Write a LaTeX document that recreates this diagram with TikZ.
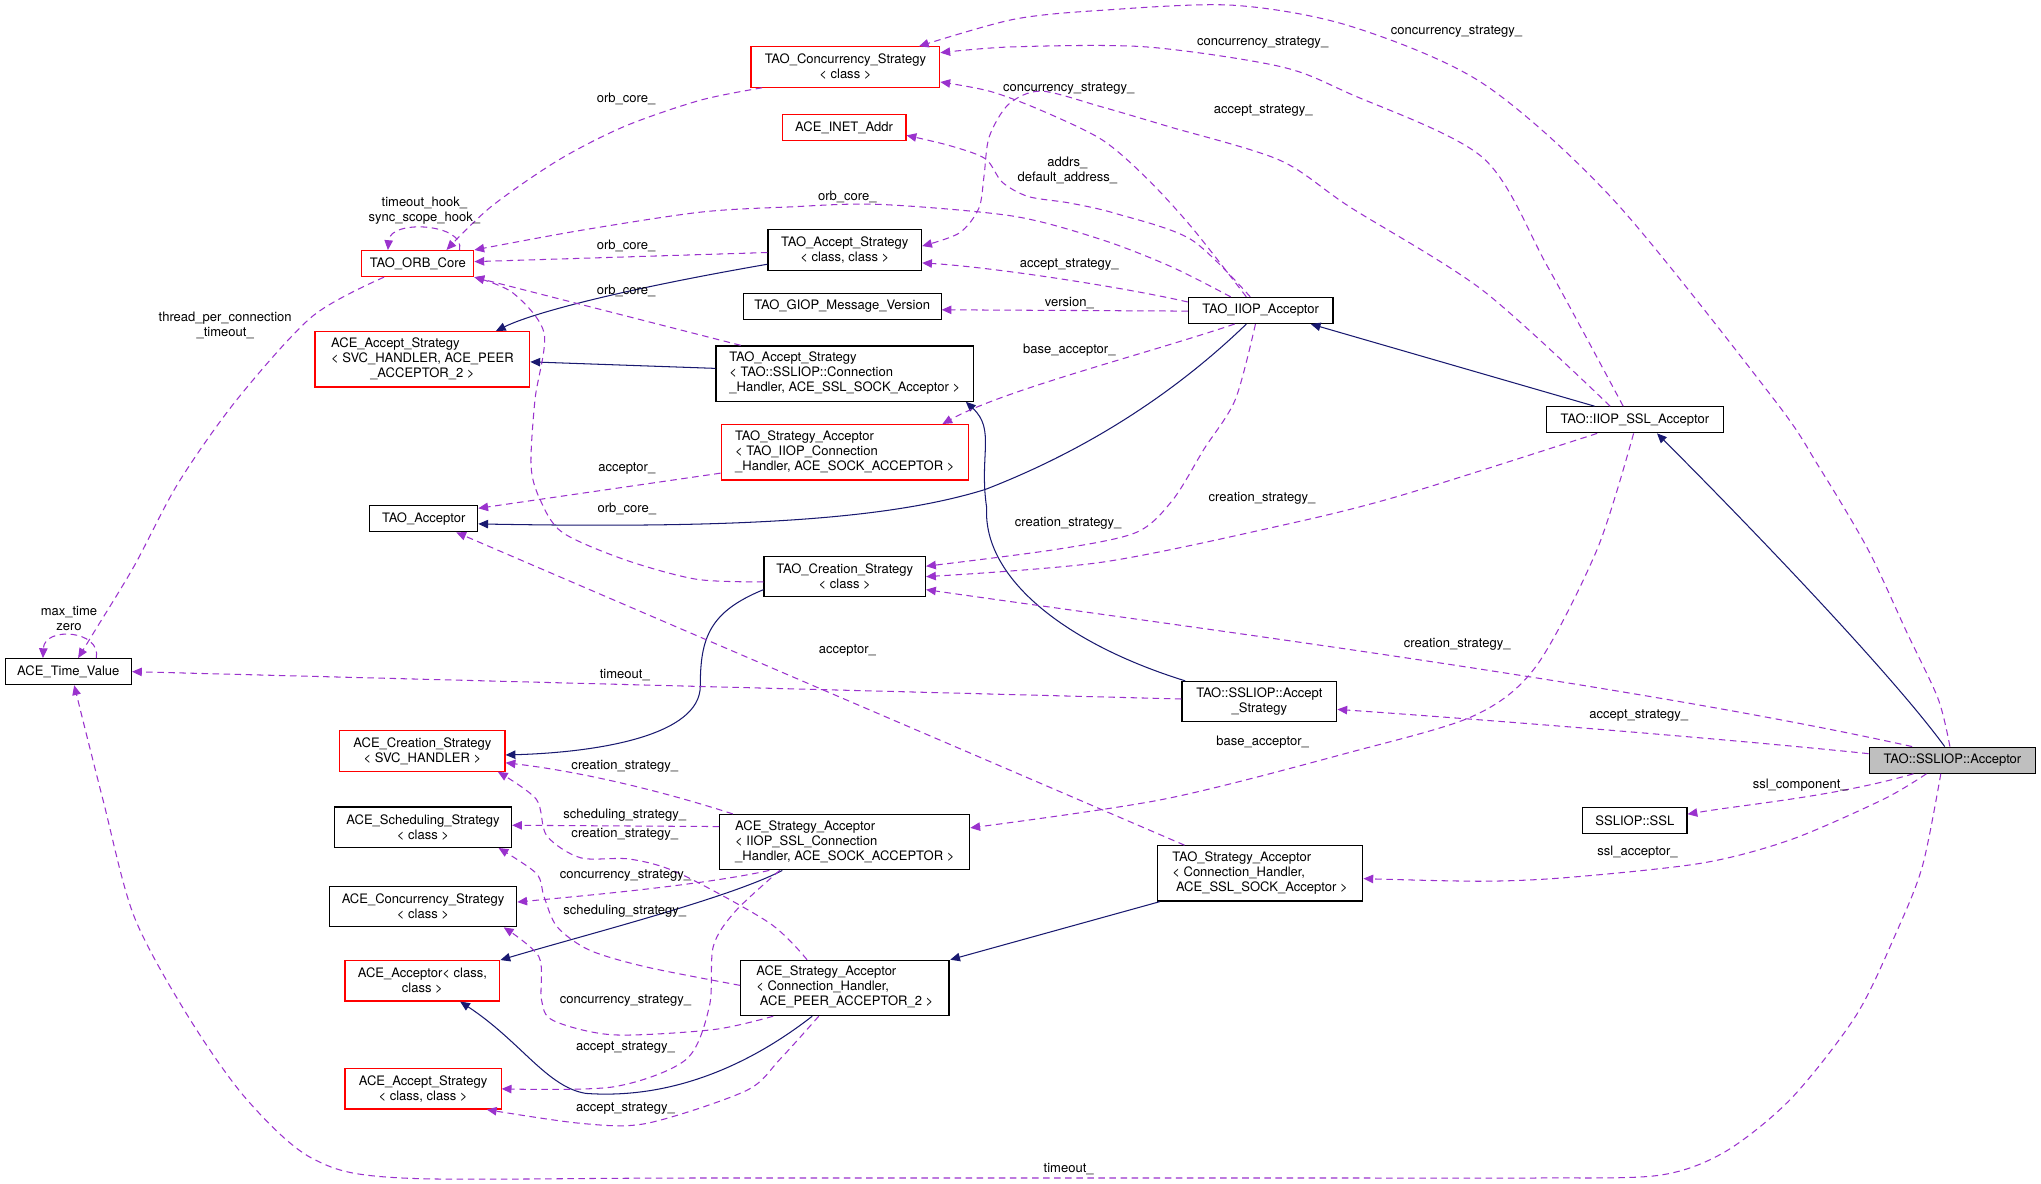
\documentclass[tikz,border=0pt]{standalone}
\usepackage{fontspec}
\setmainfont{TeX Gyre Heros}
\usetikzlibrary{arrows.meta}

\definecolor{mbr}{HTML}{9A32CD}
\definecolor{inh}{HTML}{191970}
\definecolor{selgray}{HTML}{BFBFBF}
\newcommand{\dgfont}{\fontsize{10}{11.5}\selectfont}
\newcommand{\threel}[3]{\begin{tabular}{@{}l@{}}#1\\#2\\\multicolumn{1}{@{}c@{}}{#3}\end{tabular}}

\tikzset{
    cls/.style={draw=black, line width=0.9pt, fill=white, minimum height=20pt, inner sep=2pt, font=\dgfont},
    redcls/.style={cls, draw=red},
    two/.style={minimum height=31pt, align=center},
    three/.style={minimum height=42.5pt},
    lab/.style={inner sep=0pt, font=\dgfont, align=center},
    member/.style={draw=mbr, line width=0.8pt, dash pattern=on 5pt off 3.5pt, -{Triangle[length=7.5pt,width=6.5pt]}},
    inherit/.style={draw=inh, line width=0.8pt, -{Triangle[length=7.5pt,width=6.5pt]}},
}

\begin{document}
\begin{tikzpicture}[x=1pt, y=-1pt]
\path[use as bounding box, fill=white] (0,0) rectangle (1568,909.6);

% classes
\node[redcls, two, minimum width=145pt] (conc) at (649.5,51.5) {TAO\_Concurrency\_Strategy\\< class >};
\node[redcls, minimum width=95pt] (inet) at (648.5,98) {ACE\_INET\_Addr};
\node[redcls, minimum width=86pt] (orb) at (321,202.5) {TAO\_ORB\_Core};
\node[cls, two, minimum width=118pt] (tacc) at (649,192) {TAO\_Accept\_Strategy\\< class, class >};
\node[cls, minimum width=152pt] (giop) at (647,235.5) {TAO\_GIOP\_Message\_Version};
\node[cls, minimum width=111pt] (iiop) at (968.5,238.5) {TAO\_IIOP\_Acceptor};
\node[redcls, three, minimum width=165pt] (aceacc) at (324.5,276) {\threel{ACE\_Accept\_Strategy}{< SVC\_HANDLER, ACE\_PEER}{\_ACCEPTOR\_2 >}};
\node[cls, three, minimum width=198pt] (tsslacc) at (649,287) {\threel{TAO\_Accept\_Strategy}{< TAO::SSLIOP::Connection}{\_Handler, ACE\_SSL\_SOCK\_Acceptor >}};
\node[redcls, three, minimum width=190pt] (tstrat) at (649,347.5) {\threel{TAO\_Strategy\_Acceptor}{< TAO\_IIOP\_Connection}{\_Handler, ACE\_SOCK\_ACCEPTOR >}};
\node[cls, minimum width=136pt] (iiopssl) at (1256,322.5) {TAO::IIOP\_SSL\_Acceptor};
\node[cls, minimum width=83pt] (tao) at (325.5,398.5) {TAO\_Acceptor};
\node[cls, two, minimum width=124pt] (tcreat) at (649,443) {TAO\_Creation\_Strategy\\< class >};
\node[cls, minimum width=97pt] (time) at (52.5,516) {ACE\_Time\_Value};
\node[cls, two, minimum width=119pt] (sslaccstr) at (967.5,539) {TAO::SSLIOP::Accept\\\_Strategy};
\node[redcls, two, minimum width=127pt] (acecreat) at (324.5,577) {ACE\_Creation\_Strategy\\< SVC\_HANDLER >};
\node[cls, fill=selgray, minimum width=128pt] (main) at (1500,584) {TAO::SSLIOP::Acceptor};
\node[cls, minimum width=80pt] (ssl) at (1256,630.5) {SSLIOP::SSL};
\node[cls, two, minimum width=136pt] (sched) at (325,635.5) {ACE\_Scheduling\_Strategy\\< class >};
\node[cls, three, minimum width=192pt] (acestrat1) at (649,647) {\threel{ACE\_Strategy\_Acceptor}{< IIOP\_SSL\_Connection}{\_Handler, ACE\_SOCK\_ACCEPTOR >}};
\node[cls, three, minimum width=158pt] (tstrat2) at (968,671) {\threel{TAO\_Strategy\_Acceptor}{< Connection\_Handler,}{\ ACE\_SSL\_SOCK\_Acceptor >}};
\node[cls, two, minimum width=144pt] (aceconc) at (325,696.5) {ACE\_Concurrency\_Strategy\\< class >};
\node[redcls, two, minimum width=119pt] (aceacptr) at (324.5,753.5) {ACE\_Acceptor< class,\\class >};
\node[cls, three, minimum width=160pt] (acestrat2) at (649,759) {\threel{ACE\_Strategy\_Acceptor}{< Connection\_Handler,}{\ ACE\_PEER\_ACCEPTOR\_2 >}};
\node[redcls, two, minimum width=120pt] (aceaccs) at (325,836.5) {ACE\_Accept\_Strategy\\< class, class >};

% inheritance
\draw[inherit] ([xshift=-6pt]main.north) .. controls (1455,520) and (1350,410) .. ([xshift=17pt]iiopssl.south);
\draw[inherit] ([xshift=-31pt]iiopssl.north) -- ([xshift=38.5pt]iiop.south);
\draw[inherit] ([xshift=-11pt]iiop.south) .. controls (915,290) and (850,340) .. (757,376) .. controls (680,400) and (560,406) .. ([yshift=-4pt]tao.east);
\draw[inherit] ([yshift=-11pt]tacc.west) .. controls (480,222) and (410,240) .. ([xshift=56.5pt]aceacc.north);
\draw[inherit] ([yshift=4pt]tsslacc.west) -- ([yshift=-2pt]aceacc.east);
\draw[inherit] ([xshift=-57pt]sslaccstr.north) .. controls (820,495) and (755,445) .. (758,390) .. controls (752,350) and (765,330) .. ([xshift=93pt]tsslacc.south);
\draw[inherit] ([yshift=-10pt]tcreat.west) .. controls (545,470) and (538,490) .. (538,527) .. controls (538,565) and (460,578) .. ([yshift=-3pt]acecreat.east);
\draw[inherit] ([xshift=-48pt]acestrat1.south) .. controls (560,690) and (450,718) .. (aceacptr.north east);
\draw[inherit] ([xshift=-77pt]tstrat2.south) -- ([xshift=81pt]acestrat2.north);
\draw[inherit] ([xshift=-25pt]acestrat2.south) .. controls (580,815) and (520,845) .. (450,840) .. controls (420,835) and (400,800) .. ([xshift=29pt]aceacptr.south);

% members of TAO::SSLIOP::Acceptor
\draw[member] plot[smooth] coordinates {([xshift=-2pt]main.north) (1489,537) (1465,486) (1435,422) (1397,358) (1363,307) (1240,154) (1139,64) (1037,20) (947,4) (845,8) (778,15) ([xshift=56.5pt]conc.north)};
\draw[member] ([xshift=-31pt]main.north) .. controls (1250,525) and (900,480) .. ([yshift=-10pt]tcreat.east);
\draw[member] ([yshift=5pt]main.west) .. controls (1300,565) and (1100,550) .. ([yshift=-6pt]sslaccstr.east);
\draw[member] ([xshift=-30pt]main.south) .. controls (1410,612) and (1340,618) .. ([yshift=5pt]ssl.east);
\draw[member] plot[smooth] coordinates {([xshift=-20pt]main.south) (1447,614) (1376,645) (1308,663) (1206,674) (1139,677) ([yshift=-4pt]tstrat2.east)};
\draw[member] plot[smooth] coordinates {([xshift=-9pt]main.south) (1477,665) (1457,716) (1426,780) (1376,844) (1325,885) (1274,903) (1180,905) (1037,905) (538,905) (309,905) (240,890) (189,844) (144,780) (103,704) (79,614) ([xshift=4.5pt]time.south)};

% members of TAO::IIOP_SSL_Acceptor
\draw[member] plot[smooth] coordinates {([xshift=-9pt]iiopssl.north) (1189,205) (1139,121) (1037,72) (983,51) (880,36) (778,36) ([yshift=11pt]conc.east)};
\draw[member] plot[smooth] coordinates {([xshift=-19pt]iiopssl.north) (1139,223) (1037,159) (983,123) (897,97) (846,82) (800,70) (775,80) (760,105) (756,135) (752,160) (737,179) ([yshift=3pt]tacc.east)};
\draw[member] plot[smooth] coordinates {([xshift=-29pt]iiopssl.south) (1075,381) (983,404) (846,432) (tcreat.east)};
\draw[member] plot[smooth] coordinates {([xshift=-1pt]iiopssl.south) (1227,422) (1180,512) (1132,550) (1037,578) (894,614) ([yshift=11pt]acestrat1.east)};

% members of TAO_IIOP_Acceptor
\draw[member] plot[smooth] coordinates {([xshift=-11pt]iiop.north) (915,174) (880,136) (846,107) (798,84) (760,70) ([yshift=-11.5pt]conc.east)};
\draw[member] plot[smooth] coordinates {([xshift=-8pt]iiop.north) (915,184) (857,164) (822,156) (790,151) (770,140) (757,122) (730,112) ([yshift=-6pt]inet.east)};
\draw[member] plot[smooth] coordinates {([xshift=-23pt]iiop.north) (900,205) (846,184) (778,166) (675,157) (606,159) (538,163) (446,177) (orb.north east)};
\draw[member] ([yshift=6.5pt]iiop.west) .. controls (860,220) and (760,205) .. ([yshift=-10pt]tacc.east);
\draw[member] ([yshift=-0.5pt]iiop.west) -- ([yshift=-2.5pt]giop.east);
\draw[member] ([xshift=-20pt]iiop.south) .. controls (880,272) and (770,300) .. ([xshift=75pt]tstrat.north);
\draw[member] plot[smooth] coordinates {([xshift=-4pt]iiop.south) (949,307) (925,345) (901,384) (873,409) (812,422) ([yshift=8pt]tcreat.east)};

% other TAO members
\draw[member] ([yshift=2pt]sslaccstr.west) -- (time.east);
\draw[member] ([yshift=-16pt]tstrat.west) -- ([yshift=8pt]tao.east);
\draw[member] ([xshift=-58pt]tstrat2.north) -- ([xshift=25pt]tao.south);
\draw[member] ([yshift=-2pt]tacc.west) -- ([yshift=1.5pt]orb.east);
\draw[member] ([xshift=-80pt]tsslacc.north) -- (orb.south east);
\draw[member] plot[smooth] coordinates {([xshift=-64pt]conc.south) (538,77) (480,97) (429,123) (377,159) ([xshift=22pt]orb.north)};
\draw[member] plot[smooth] coordinates {([yshift=-4pt]tcreat.west) (535,445) (480,430) (432,409) (415,384) (408,358) (411,307) (418,256) (394,225) (orb.south east)};
\draw[member] plot[smooth] coordinates {([xshift=-26pt]orb.south) (240,243) (182,307) (137,371) (103,435) (72,486) ([xshift=7.5pt]time.north)};
\draw[member] ([xshift=32pt]orb.north) .. controls (358,172) and (300,168) .. ([xshift=-23pt]orb.north);
\draw[member] ([xshift=21.5pt]time.north) .. controls (78,484) and (34,481) .. ([xshift=-19.5pt]time.north);

% ACE strategy acceptors
\draw[member] ([xshift=-86pt]acestrat1.north) .. controls (500,605) and (440,592) .. ([yshift=-9pt]acecreat.east);
\draw[member] ([yshift=12pt]acestrat1.west) -- ([yshift=1.5pt]sched.east);
\draw[member] ([xshift=-58pt]acestrat1.south) .. controls (540,680) and (450,688) .. ([yshift=3.5pt]aceconc.east);
\draw[member] plot[smooth] coordinates {([xshift=-50pt]acestrat1.south) (565,700) (548,727) (545,773) (527,814) (471,835) (aceaccs.east)};
\draw[member] plot[smooth] coordinates {([xshift=-29pt]acestrat2.north) (591,709) (522,671) (484,660) (446,659) (420,642) (412,614) ([xshift=58pt]acecreat.south)};
\draw[member] plot[smooth] coordinates {([yshift=2pt]acestrat2.west) (497,743) (453,730) (428,712) (418,689) (412,671) ([xshift=58pt]sched.south)};
\draw[member] plot[smooth] coordinates {([xshift=-55pt]acestrat2.south) (548,791) (471,795) (425,784) (416,768) (414,735) ([xshift=62pt]aceconc.south)};
\draw[member] plot[smooth] coordinates {([xshift=-20pt]acestrat2.south) (599,814) (573,838) (497,863) (446,863) ([xshift=49pt]aceaccs.south)};

% edge labels
\node[lab] (l-conc-a) at (1119,24) {concurrency\_strategy\_};
\node[lab] (l-conc-b) at (970,33) {concurrency\_strategy\_};
\node[lab] (l-orb-a) at (481,76) {orb\_core\_};
\node[lab] (l-conc-c) at (821,68) {concurrency\_strategy\_};
\node[lab] (l-acc-a) at (970.5,85) {accept\_strategy\_};
\node[lab] (l-addr) at (820,131) {addrs\_\\default\_address\_};
\node[lab] (l-orb-b) at (651,151) {orb\_core\_};
\node[lab] (l-hook) at (326,162) {timeout\_hook\_\\sync\_scope\_hook\_};
\node[lab] (l-orb-c) at (481,189) {orb\_core\_};
\node[lab] (l-acc-b) at (821.5,203) {accept\_strategy\_};
\node[lab] (l-orb-d) at (481,223.5) {orb\_core\_};
\node[lab] (l-ver) at (821.5,232.5) {version\_};
\node[lab] (l-thread) at (173,250) {thread\_per\_connection\\\_timeout\_};
\node[lab] (l-base-a) at (821.5,269) {base\_acceptor\_};
\node[lab] (l-acptr-a) at (481.5,360) {acceptor\_};
\node[lab] (l-cre-a) at (969.5,383) {creation\_strategy\_};
\node[lab] (l-orb-e) at (481.5,390.6) {orb\_core\_};
\node[lab] (l-cre-b) at (820.6,402) {creation\_strategy\_};
\node[lab] (l-maxt) at (53,475) {max\_time\\zero};
\node[lab] (l-acptr-b) at (651,499.5) {acceptor\_};
\node[lab] (l-cre-c) at (1119.5,495) {creation\_strategy\_};
\node[lab] (l-tmo-a) at (480,518.7) {timeout\_};
\node[lab] (l-acc-c) at (1259,550) {accept\_strategy\_};
\node[lab] (l-base-b) at (970,570) {base\_acceptor\_};
\node[lab] (l-cre-d) at (480,588.5) {creation\_strategy\_};
\node[lab] (l-sslc) at (1383,603) {ssl\_component\_};
\node[lab] (l-sch-a) at (480,626) {scheduling\_strategy\_};
\node[lab] (l-cre-e) at (480,641) {creation\_strategy\_};
\node[lab] (l-ssla) at (1258,654.4) {ssl\_acceptor\_};
\node[lab] (l-conc-d) at (480.5,673) {concurrency\_strategy\_};
\node[lab] (l-sch-b) at (480,700) {scheduling\_strategy\_};
\node[lab] (l-conc-e) at (480.5,768.7) {concurrency\_strategy\_};
\node[lab] (l-acc-d) at (480.5,804.7) {accept\_strategy\_};
\node[lab] (l-acc-e) at (480.5,851.7) {accept\_strategy\_};
\node[lab] (l-tmo-b) at (821,898) {timeout\_};
\end{tikzpicture}
\end{document}
